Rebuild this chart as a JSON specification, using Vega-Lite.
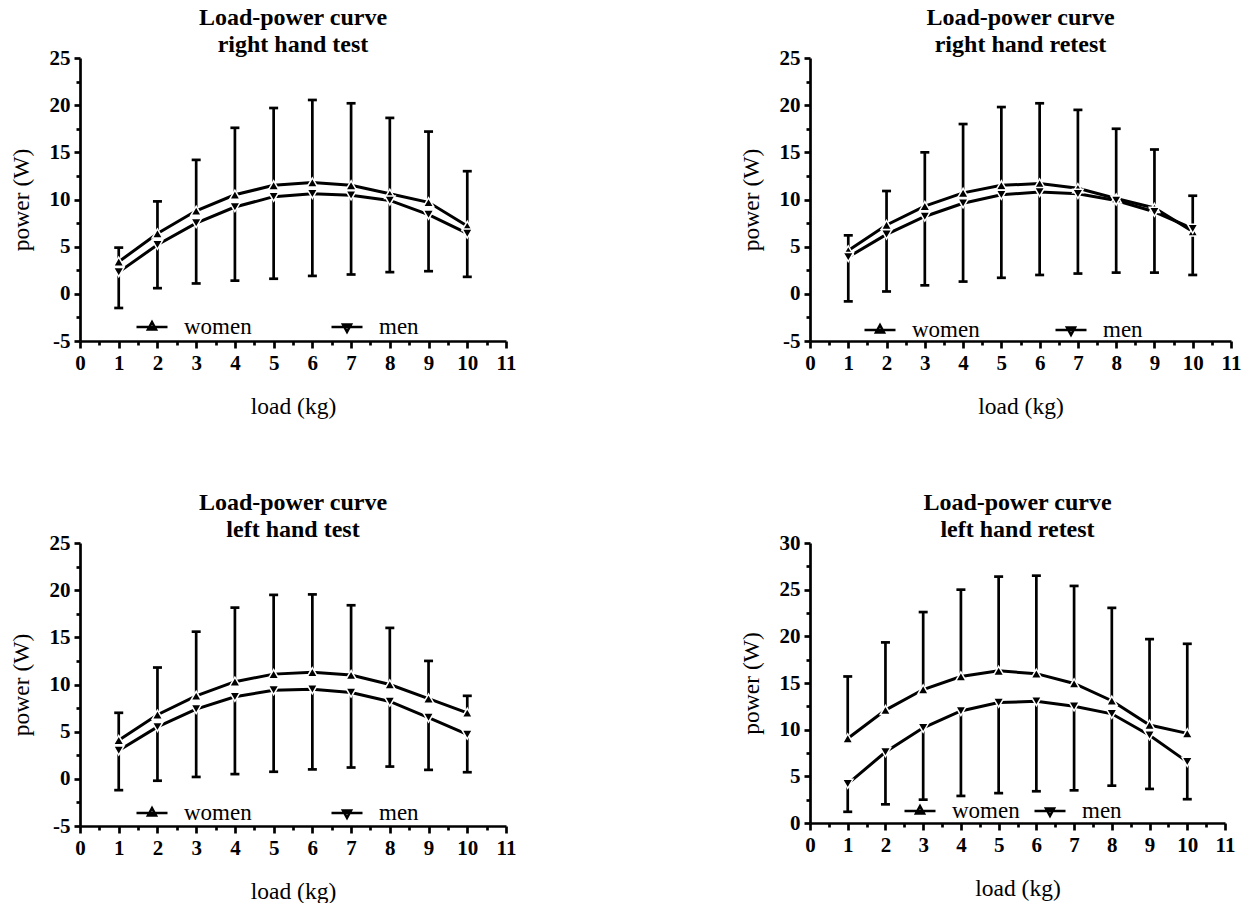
{
  "$schema": "https://vega.github.io/schema/vega-lite/v6.json",
  "padding": {"left": 9, "top": 6, "right": 5, "bottom": 5},
  "background": "white",
  "data": {"values": [
    {"panel":"RT","load":1,"sex":"women","power":3.4,"bar":4.9},
    {"panel":"RT","load":2,"sex":"women","power":6.4,"bar":9.8},
    {"panel":"RT","load":3,"sex":"women","power":8.8,"bar":14.2},
    {"panel":"RT","load":4,"sex":"women","power":10.5,"bar":17.6},
    {"panel":"RT","load":5,"sex":"women","power":11.5,"bar":19.7},
    {"panel":"RT","load":6,"sex":"women","power":11.8,"bar":20.55},
    {"panel":"RT","load":7,"sex":"women","power":11.5,"bar":20.2},
    {"panel":"RT","load":8,"sex":"women","power":10.6,"bar":18.65},
    {"panel":"RT","load":9,"sex":"women","power":9.7,"bar":17.2},
    {"panel":"RT","load":10,"sex":"women","power":7.2,"bar":13.0},
    {"panel":"RT","load":1,"sex":"men","power":2.3,"bar":-1.5},
    {"panel":"RT","load":2,"sex":"men","power":5.2,"bar":0.6},
    {"panel":"RT","load":3,"sex":"men","power":7.5,"bar":1.1},
    {"panel":"RT","load":4,"sex":"men","power":9.2,"bar":1.4},
    {"panel":"RT","load":5,"sex":"men","power":10.3,"bar":1.6},
    {"panel":"RT","load":6,"sex":"men","power":10.6,"bar":1.9},
    {"panel":"RT","load":7,"sex":"men","power":10.45,"bar":2.05},
    {"panel":"RT","load":8,"sex":"men","power":9.9,"bar":2.3},
    {"panel":"RT","load":9,"sex":"men","power":8.4,"bar":2.4},
    {"panel":"RT","load":10,"sex":"men","power":6.4,"bar":1.8},
    {"panel":"RR","load":1,"sex":"women","power":4.6,"bar":6.2},
    {"panel":"RR","load":2,"sex":"women","power":7.3,"bar":10.9},
    {"panel":"RR","load":3,"sex":"women","power":9.3,"bar":15.0},
    {"panel":"RR","load":4,"sex":"women","power":10.7,"bar":18.0},
    {"panel":"RR","load":5,"sex":"women","power":11.5,"bar":19.8},
    {"panel":"RR","load":6,"sex":"women","power":11.7,"bar":20.2},
    {"panel":"RR","load":7,"sex":"women","power":11.2,"bar":19.5},
    {"panel":"RR","load":8,"sex":"women","power":10.1,"bar":17.5},
    {"panel":"RR","load":9,"sex":"women","power":9.1,"bar":15.3},
    {"panel":"RR","load":10,"sex":"women","power":6.6,"bar":10.4},
    {"panel":"RR","load":1,"sex":"men","power":3.9,"bar":-0.8},
    {"panel":"RR","load":2,"sex":"men","power":6.3,"bar":0.25},
    {"panel":"RR","load":3,"sex":"men","power":8.2,"bar":0.9},
    {"panel":"RR","load":4,"sex":"men","power":9.6,"bar":1.3},
    {"panel":"RR","load":5,"sex":"men","power":10.5,"bar":1.7},
    {"panel":"RR","load":6,"sex":"men","power":10.8,"bar":2.0},
    {"panel":"RR","load":7,"sex":"men","power":10.6,"bar":2.15},
    {"panel":"RR","load":8,"sex":"men","power":9.9,"bar":2.25},
    {"panel":"RR","load":9,"sex":"men","power":8.7,"bar":2.25},
    {"panel":"RR","load":10,"sex":"men","power":6.9,"bar":2.0},
    {"panel":"LT","load":1,"sex":"women","power":4.1,"bar":7.0},
    {"panel":"LT","load":2,"sex":"women","power":6.8,"bar":11.8},
    {"panel":"LT","load":3,"sex":"women","power":8.8,"bar":15.6},
    {"panel":"LT","load":4,"sex":"women","power":10.3,"bar":18.15},
    {"panel":"LT","load":5,"sex":"women","power":11.1,"bar":19.5},
    {"panel":"LT","load":6,"sex":"women","power":11.3,"bar":19.55},
    {"panel":"LT","load":7,"sex":"women","power":11.0,"bar":18.4},
    {"panel":"LT","load":8,"sex":"women","power":10.0,"bar":16.0},
    {"panel":"LT","load":9,"sex":"women","power":8.5,"bar":12.5},
    {"panel":"LT","load":10,"sex":"women","power":7.0,"bar":8.8},
    {"panel":"LT","load":1,"sex":"men","power":3.0,"bar":-1.2},
    {"panel":"LT","load":2,"sex":"men","power":5.5,"bar":-0.2},
    {"panel":"LT","load":3,"sex":"men","power":7.4,"bar":0.2},
    {"panel":"LT","load":4,"sex":"men","power":8.7,"bar":0.5},
    {"panel":"LT","load":5,"sex":"men","power":9.4,"bar":0.75},
    {"panel":"LT","load":6,"sex":"men","power":9.5,"bar":1.0},
    {"panel":"LT","load":7,"sex":"men","power":9.15,"bar":1.2},
    {"panel":"LT","load":8,"sex":"men","power":8.2,"bar":1.3},
    {"panel":"LT","load":9,"sex":"men","power":6.5,"bar":0.95},
    {"panel":"LT","load":10,"sex":"men","power":4.7,"bar":0.7},
    {"panel":"LR","load":1,"sex":"women","power":9.05,"bar":15.7},
    {"panel":"LR","load":2,"sex":"women","power":12.1,"bar":19.35},
    {"panel":"LR","load":3,"sex":"women","power":14.3,"bar":22.6},
    {"panel":"LR","load":4,"sex":"women","power":15.7,"bar":25.0},
    {"panel":"LR","load":5,"sex":"women","power":16.3,"bar":26.4},
    {"panel":"LR","load":6,"sex":"women","power":16.0,"bar":26.5},
    {"panel":"LR","load":7,"sex":"women","power":14.95,"bar":25.4},
    {"panel":"LR","load":8,"sex":"women","power":13.1,"bar":23.05},
    {"panel":"LR","load":9,"sex":"women","power":10.5,"bar":19.7},
    {"panel":"LR","load":10,"sex":"women","power":9.6,"bar":19.2},
    {"panel":"LR","load":1,"sex":"men","power":4.2,"bar":1.2},
    {"panel":"LR","load":2,"sex":"men","power":7.6,"bar":2.0},
    {"panel":"LR","load":3,"sex":"men","power":10.2,"bar":2.5},
    {"panel":"LR","load":4,"sex":"men","power":12.0,"bar":2.9},
    {"panel":"LR","load":5,"sex":"men","power":12.9,"bar":3.2},
    {"panel":"LR","load":6,"sex":"men","power":13.05,"bar":3.4},
    {"panel":"LR","load":7,"sex":"men","power":12.5,"bar":3.5},
    {"panel":"LR","load":8,"sex":"men","power":11.7,"bar":4.0},
    {"panel":"LR","load":9,"sex":"men","power":9.4,"bar":3.65},
    {"panel":"LR","load":10,"sex":"men","power":6.55,"bar":2.55}
  ]},
  "columns": 2,
  "spacing": {"column": 223, "row": 73},
  "resolve": {"scale": {"shape": "independent", "x": "independent", "y": "independent"}, "legend": {"shape": "independent"}},
  "concat": [
    {
      "title": {"text": ["Load-power curve", "right hand test"]},
      "width": 426, "height": 283,
      "transform": [{"filter": "datum.panel === 'RT'"}],
      "resolve": {"axis": {"x": "independent", "y": "independent"}},
      "layer": [
        {"mark": {"type": "rule", "strokeWidth": 2.7, "color": "black"},
         "encoding": {"x": {"field": "load", "type": "quantitative", "axis": null, "scale": {"domain": [0, 11], "nice": false}},
                      "y": {"field": "power", "type": "quantitative", "axis": null, "scale": {"domain": [-5, 25], "nice": false}},
                      "y2": {"field": "bar"}}},
        {"mark": {"type": "tick", "orient": "horizontal", "size": 9, "thickness": 2.7, "color": "black", "opacity": 1},
         "encoding": {"x": {"field": "load", "type": "quantitative", "axis": null},
                      "y": {"field": "bar", "type": "quantitative", "axis": null}}},
        {"mark": {"type": "line", "strokeWidth": 3, "color": "black"},
         "encoding": {"x": {"field": "load", "type": "quantitative", "axis": {"values": [0,1,2,3,4,5,6,7,8,9,10,11], "title": "load (kg)"}},
                      "y": {"field": "power", "type": "quantitative", "axis": {"values": [-5,0,5,10,15,20,25], "title": "power (W)", "labelExpr": "datum.value + ''"}},
                      "detail": {"field": "sex"}}},
        {"transform": [{"filter": "datum.sex === 'women'"}],
         "mark": {"type": "point", "shape": "triangle-up", "filled": true, "fill": "black", "stroke": "white", "strokeWidth": 1.5, "size": 110, "opacity": 1},
         "encoding": {"x": {"field": "load", "type": "quantitative", "axis": null}, "y": {"field": "power", "type": "quantitative", "axis": null}}},
        {"transform": [{"filter": "datum.sex === 'men'"}],
         "mark": {"type": "point", "shape": "triangle-down", "filled": true, "fill": "black", "stroke": "white", "strokeWidth": 1.5, "size": 110, "opacity": 1},
         "encoding": {"x": {"field": "load", "type": "quantitative", "axis": null}, "y": {"field": "power", "type": "quantitative", "axis": null}}},
        {"mark": {"type": "point", "opacity": 0},
         "encoding": {"x": {"field": "load", "type": "quantitative", "axis": {"orient": "bottom", "values": [0.5,1.5,2.5,3.5,4.5,5.5,6.5,7.5,8.5,9.5,10.5], "labels": false, "domain": false, "tickSize": 4, "title": null}},
                      "y": {"field": "power", "type": "quantitative", "axis": {"orient": "left", "values": [-2.5,2.5,7.5,12.5,17.5,22.5], "labels": false, "domain": false, "tickSize": 4, "title": null}},
                      "shape": {"field": "sex", "type": "nominal",
                                "scale": {"domain": ["women", "men"], "range": ["M-1,0H1M0,-0.32L0.26,0.16L-0.26,0.16Z", "M-1,0H1M0,0.32L0.26,-0.16L-0.26,-0.16Z"]},
                                "legend": {"orient": "none", "legendX": 55, "legendY": 252, "direction": "horizontal", "columnPadding": 74}}}}
      ]
    },
    {
      "title": {"text": ["Load-power curve", "right hand retest"]},
      "width": 421, "height": 283,
      "transform": [{"filter": "datum.panel === 'RR'"}],
      "resolve": {"axis": {"x": "independent", "y": "independent"}},
      "layer": [
        {"mark": {"type": "rule", "strokeWidth": 2.7, "color": "black"},
         "encoding": {"x": {"field": "load", "type": "quantitative", "axis": null, "scale": {"domain": [0, 11], "nice": false}},
                      "y": {"field": "power", "type": "quantitative", "axis": null, "scale": {"domain": [-5, 25], "nice": false}},
                      "y2": {"field": "bar"}}},
        {"mark": {"type": "tick", "orient": "horizontal", "size": 9, "thickness": 2.7, "color": "black", "opacity": 1},
         "encoding": {"x": {"field": "load", "type": "quantitative", "axis": null},
                      "y": {"field": "bar", "type": "quantitative", "axis": null}}},
        {"mark": {"type": "line", "strokeWidth": 3, "color": "black"},
         "encoding": {"x": {"field": "load", "type": "quantitative", "axis": {"values": [0,1,2,3,4,5,6,7,8,9,10,11], "title": "load (kg)"}},
                      "y": {"field": "power", "type": "quantitative", "axis": {"values": [-5,0,5,10,15,20,25], "title": "power (W)", "labelExpr": "datum.value + ''"}},
                      "detail": {"field": "sex"}}},
        {"transform": [{"filter": "datum.sex === 'women'"}],
         "mark": {"type": "point", "shape": "triangle-up", "filled": true, "fill": "black", "stroke": "white", "strokeWidth": 1.5, "size": 110, "opacity": 1},
         "encoding": {"x": {"field": "load", "type": "quantitative", "axis": null}, "y": {"field": "power", "type": "quantitative", "axis": null}}},
        {"transform": [{"filter": "datum.sex === 'men'"}],
         "mark": {"type": "point", "shape": "triangle-down", "filled": true, "fill": "black", "stroke": "white", "strokeWidth": 1.5, "size": 110, "opacity": 1},
         "encoding": {"x": {"field": "load", "type": "quantitative", "axis": null}, "y": {"field": "power", "type": "quantitative", "axis": null}}},
        {"mark": {"type": "point", "opacity": 0},
         "encoding": {"x": {"field": "load", "type": "quantitative", "axis": {"orient": "bottom", "values": [0.5,1.5,2.5,3.5,4.5,5.5,6.5,7.5,8.5,9.5,10.5], "labels": false, "domain": false, "tickSize": 4, "title": null}},
                      "y": {"field": "power", "type": "quantitative", "axis": {"orient": "left", "values": [-2.5,2.5,7.5,12.5,17.5,22.5], "labels": false, "domain": false, "tickSize": 4, "title": null}},
                      "shape": {"field": "sex", "type": "nominal",
                                "scale": {"domain": ["women", "men"], "range": ["M-1,0H1M0,-0.32L0.26,0.16L-0.26,0.16Z", "M-1,0H1M0,0.32L0.26,-0.16L-0.26,-0.16Z"]},
                                "legend": {"orient": "none", "legendX": 53, "legendY": 255, "direction": "horizontal", "columnPadding": 70}}}}
      ]
    },
    {
      "title": {"text": ["Load-power curve", "left hand test"]},
      "width": 426, "height": 283,
      "transform": [{"filter": "datum.panel === 'LT'"}],
      "resolve": {"axis": {"x": "independent", "y": "independent"}},
      "layer": [
        {"mark": {"type": "rule", "strokeWidth": 2.7, "color": "black"},
         "encoding": {"x": {"field": "load", "type": "quantitative", "axis": null, "scale": {"domain": [0, 11], "nice": false}},
                      "y": {"field": "power", "type": "quantitative", "axis": null, "scale": {"domain": [-5, 25], "nice": false}},
                      "y2": {"field": "bar"}}},
        {"mark": {"type": "tick", "orient": "horizontal", "size": 9, "thickness": 2.7, "color": "black", "opacity": 1},
         "encoding": {"x": {"field": "load", "type": "quantitative", "axis": null},
                      "y": {"field": "bar", "type": "quantitative", "axis": null}}},
        {"mark": {"type": "line", "strokeWidth": 3, "color": "black"},
         "encoding": {"x": {"field": "load", "type": "quantitative", "axis": {"values": [0,1,2,3,4,5,6,7,8,9,10,11], "title": "load (kg)"}},
                      "y": {"field": "power", "type": "quantitative", "axis": {"values": [-5,0,5,10,15,20,25], "title": "power (W)", "labelExpr": "datum.value + ''"}},
                      "detail": {"field": "sex"}}},
        {"transform": [{"filter": "datum.sex === 'women'"}],
         "mark": {"type": "point", "shape": "triangle-up", "filled": true, "fill": "black", "stroke": "white", "strokeWidth": 1.5, "size": 110, "opacity": 1},
         "encoding": {"x": {"field": "load", "type": "quantitative", "axis": null}, "y": {"field": "power", "type": "quantitative", "axis": null}}},
        {"transform": [{"filter": "datum.sex === 'men'"}],
         "mark": {"type": "point", "shape": "triangle-down", "filled": true, "fill": "black", "stroke": "white", "strokeWidth": 1.5, "size": 110, "opacity": 1},
         "encoding": {"x": {"field": "load", "type": "quantitative", "axis": null}, "y": {"field": "power", "type": "quantitative", "axis": null}}},
        {"mark": {"type": "point", "opacity": 0},
         "encoding": {"x": {"field": "load", "type": "quantitative", "axis": {"orient": "bottom", "values": [0.5,1.5,2.5,3.5,4.5,5.5,6.5,7.5,8.5,9.5,10.5], "labels": false, "domain": false, "tickSize": 4, "title": null}},
                      "y": {"field": "power", "type": "quantitative", "axis": {"orient": "left", "values": [-2.5,2.5,7.5,12.5,17.5,22.5], "labels": false, "domain": false, "tickSize": 4, "title": null}},
                      "shape": {"field": "sex", "type": "nominal",
                                "scale": {"domain": ["women", "men"], "range": ["M-1,0H1M0,-0.32L0.26,0.16L-0.26,0.16Z", "M-1,0H1M0,0.32L0.26,-0.16L-0.26,-0.16Z"]},
                                "legend": {"orient": "none", "legendX": 55, "legendY": 253, "direction": "horizontal", "columnPadding": 74}}}}
      ]
    },
    {
      "title": {"text": ["Load-power curve", "left hand retest"]},
      "width": 415, "height": 280,
      "transform": [{"filter": "datum.panel === 'LR'"}],
      "resolve": {"axis": {"x": "independent", "y": "independent"}},
      "layer": [
        {"mark": {"type": "rule", "strokeWidth": 2.7, "color": "black"},
         "encoding": {"x": {"field": "load", "type": "quantitative", "axis": null, "scale": {"domain": [0, 11], "nice": false}},
                      "y": {"field": "power", "type": "quantitative", "axis": null, "scale": {"domain": [0, 30], "nice": false}},
                      "y2": {"field": "bar"}}},
        {"mark": {"type": "tick", "orient": "horizontal", "size": 9, "thickness": 2.7, "color": "black", "opacity": 1},
         "encoding": {"x": {"field": "load", "type": "quantitative", "axis": null},
                      "y": {"field": "bar", "type": "quantitative", "axis": null}}},
        {"mark": {"type": "line", "strokeWidth": 3, "color": "black"},
         "encoding": {"x": {"field": "load", "type": "quantitative", "axis": {"values": [0,1,2,3,4,5,6,7,8,9,10,11], "title": "load (kg)"}},
                      "y": {"field": "power", "type": "quantitative", "axis": {"values": [0,5,10,15,20,25,30], "title": "power (W)", "labelExpr": "datum.value + ''"}},
                      "detail": {"field": "sex"}}},
        {"transform": [{"filter": "datum.sex === 'women'"}],
         "mark": {"type": "point", "shape": "triangle-up", "filled": true, "fill": "black", "stroke": "white", "strokeWidth": 1.5, "size": 110, "opacity": 1},
         "encoding": {"x": {"field": "load", "type": "quantitative", "axis": null}, "y": {"field": "power", "type": "quantitative", "axis": null}}},
        {"transform": [{"filter": "datum.sex === 'men'"}],
         "mark": {"type": "point", "shape": "triangle-down", "filled": true, "fill": "black", "stroke": "white", "strokeWidth": 1.5, "size": 110, "opacity": 1},
         "encoding": {"x": {"field": "load", "type": "quantitative", "axis": null}, "y": {"field": "power", "type": "quantitative", "axis": null}}},
        {"mark": {"type": "point", "opacity": 0},
         "encoding": {"x": {"field": "load", "type": "quantitative", "axis": {"orient": "bottom", "values": [0.5,1.5,2.5,3.5,4.5,5.5,6.5,7.5,8.5,9.5,10.5], "labels": false, "domain": false, "tickSize": 4, "title": null}},
                      "y": {"field": "power", "type": "quantitative", "axis": {"orient": "left", "values": [2.5,7.5,12.5,17.5,22.5,27.5], "labels": false, "domain": false, "tickSize": 4, "title": null}},
                      "shape": {"field": "sex", "type": "nominal",
                                "scale": {"domain": ["women", "men"], "range": ["M-1,0H1M0,-0.32L0.26,0.16L-0.26,0.16Z", "M-1,0H1M0,0.32L0.26,-0.16L-0.26,-0.16Z"]},
                                "legend": {"orient": "none", "legendX": 93, "legendY": 251, "direction": "horizontal", "columnPadding": 9}}}}
      ]
    }
  ],
  "config": {
    "view": {"stroke": null},
    "font": "Liberation Serif",
    "title": {"font": "Liberation Serif", "fontSize": 24, "fontWeight": "bold", "color": "black", "lineHeight": 27, "anchor": "middle", "frame": "group", "offset": -10},
    "axis": {"grid": false, "domainColor": "black", "domainWidth": 2.7, "tickColor": "black", "tickWidth": 2.7, "tickSize": 7,
             "labelFont": "Liberation Serif", "labelFontWeight": "bold", "labelFontSize": 21, "labelColor": "black", "labelFlush": false, "labelOverlap": false, "labelPadding": 4,
             "titleFont": "Liberation Serif", "titleFontWeight": "normal", "titleFontSize": 23.5, "titleColor": "black"},
    "axisX": {"titlePadding": 21},
    "axisY": {"titlePadding": 16, "tickSize": 6},
    "legend": {"title": null, "padding": 0, "labelFont": "Liberation Serif", "labelFontSize": 23, "labelColor": "black", "labelOffset": 15,
               "symbolSize": 961, "symbolStrokeWidth": 2.5, "symbolStrokeColor": "black", "symbolFillColor": "black", "symbolOpacity": 1, "labelLimit": 200}
  }
}
